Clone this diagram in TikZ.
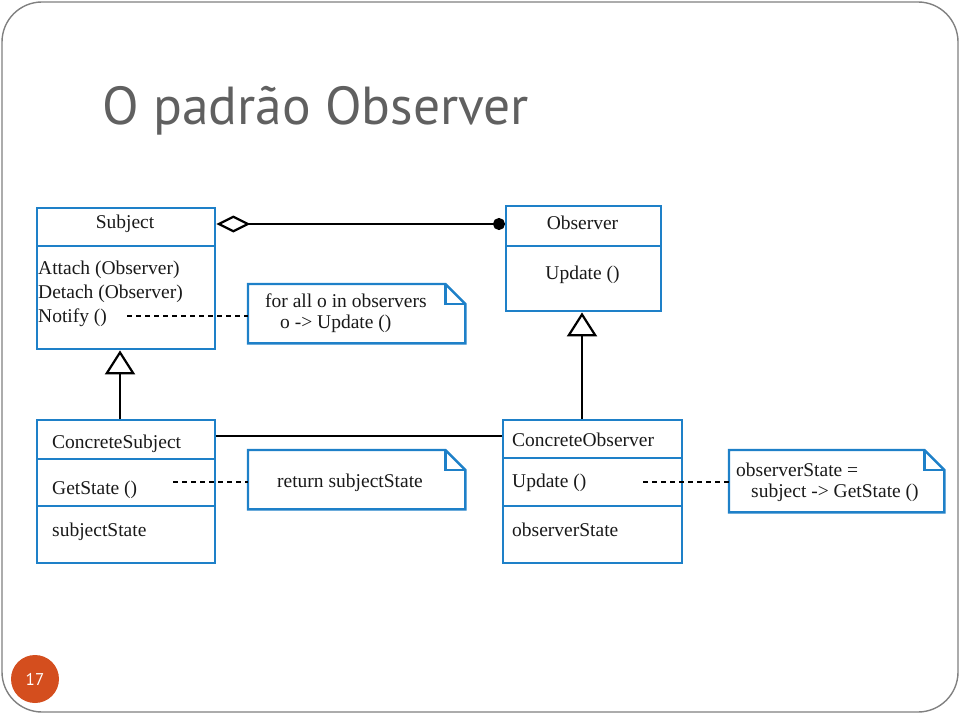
\documentclass[tikz,border=0pt]{standalone}
\usepackage{fontspec}
\setmainfont{Liberation Serif}
\newfontfamily\titlefont{PT Sans}
\usepackage{xcolor}
\usetikzlibrary{arrows.meta,calc,positioning}
\definecolor{umlblue}{RGB}{30,128,200}
\definecolor{slidegray}{RGB}{96,96,96}
\definecolor{pagered}{RGB}{212,78,30}
\newcommand{\umltext}{\fontsize{19.5pt}{22pt}\selectfont}
\tikzset{
  clsbox/.style={draw=umlblue, line width=2.4pt, inner sep=0pt, anchor=north west},
  clstxt/.style={inner sep=0pt, font=\umltext, text=black!90},
  notebox/.style={inner sep=0pt, anchor=north west},
  noteline/.style={draw=umlblue, line width=2.4pt, line join=miter},
  assoc/.style={line width=2.2pt},
  dashlink/.style={line width=2pt, dash pattern=on 5pt off 4pt},
  inherit/.style={line width=2.2pt, -{Triangle[open, length=24pt, width=30pt, line width=2.2pt]}}
}
% one folded-corner note drawn round a named node
\newcommand{\umlnote}[1]{%
  \draw[noteline] (#1.north west) -- ($(#1.north east)+(-20pt,0)$) -- ($(#1.north east)+(0,-20pt)$)
    -- (#1.south east) -- (#1.south west) -- cycle;
  \draw[noteline] ($(#1.north east)+(-20pt,0)$) -- ($(#1.north east)+(-20pt,-20pt)$)
    -- ($(#1.north east)+(0,-20pt)$);}

\begin{document}
\begin{tikzpicture}[x=1pt,y=-1pt]
  \useasboundingbox (0,0) rectangle (960,714);
  \draw[slidegray!80, line width=1.4pt, rounded corners=40pt] (2,2) rectangle (958,712);
  \node[anchor=base west, inner sep=0pt, text=slidegray, font=\titlefont\fontsize{53.5pt}{60pt}\selectfont]
    (title) at (102,125) {O padrão Observer};

  % Subject
  \node[clsbox, minimum width=178pt, minimum height=38pt] (subjT) at (36,207) {};
  \node[clsbox, minimum width=178pt, minimum height=103pt] (subjB) at (36,245) {};
  \node[clstxt] (subjN) at (125,224) {Subject};
  \node[clstxt, anchor=base west] (attach) at (38,274) {Attach (Observer)};
  \node[clstxt, anchor=base west] (detach) at (38,298) {Detach (Observer)};
  \node[clstxt, anchor=base west] (notify) at (38,322) {Notify ()};
  \coordinate (notifyEnd) at (127,316);

  % Observer
  \node[clsbox, minimum width=155pt, minimum height=40pt] (obsT) at (505,205) {};
  \node[clsbox, minimum width=155pt, minimum height=65pt] (obsB) at (505,245) {};
  \node[clstxt] (obsN) at (582.5,223) {Observer};
  \node[clstxt, anchor=base] (obsUpd) at (582.5,279) {Update ()};

  % note on Notify
  \node[notebox, minimum width=217pt, minimum height=59pt] (note1) at (248,284) {};
  \umlnote{note1}
  \node[clstxt, anchor=base west] (note1a) at (265,307) {for all o in observers};
  \node[clstxt, anchor=base west] (note1b) at (280,328) {o -> Update ()};

  % ConcreteSubject
  \node[clsbox, minimum width=178pt, minimum height=39pt] (csT) at (36,419) {};
  \node[clsbox, minimum width=178pt, minimum height=47pt] (csM) at (36,458) {};
  \node[clsbox, minimum width=178pt, minimum height=57pt] (csB) at (36,505) {};
  \node[clstxt, anchor=base west] (csN) at (52,448) {ConcreteSubject};
  \node[clstxt, anchor=base west] (csGet) at (52,494) {GetState ()};
  \node[clstxt, anchor=base west] (csState) at (52,536) {subjectState};
  \coordinate (csGetEnd) at (173,482);

  % note on GetState
  \node[notebox, minimum width=217pt, minimum height=59pt] (note2) at (248,450) {};
  \umlnote{note2}
  \node[clstxt, anchor=base] (note2a) at (350,487) {return subjectState};

  % ConcreteObserver
  \node[clsbox, minimum width=179pt, minimum height=38pt] (coT) at (502,419) {};
  \node[clsbox, minimum width=179pt, minimum height=48pt] (coM) at (502,457) {};
  \node[clsbox, minimum width=179pt, minimum height=57pt] (coB) at (502,505) {};
  \node[clstxt, anchor=base west] (coN) at (512,446) {ConcreteObserver};
  \node[clstxt, anchor=base west] (coUpd) at (512,487) {Update ()};
  \node[clstxt, anchor=base west] (coState) at (512,536) {observerState};
  \coordinate (coUpdEnd) at (643,482);

  % note on Update
  \node[notebox, minimum width=215pt, minimum height=62pt] (note3) at (729,450) {};
  \umlnote{note3}
  \node[clstxt, anchor=base west] (note3a) at (736,476) {observerState =};
  \node[clstxt, anchor=base west] (note3b) at (751,497) {subject -> GetState ()};

  % connectors
  \coordinate (aggL) at (subjT.east |- 0,224);
  \coordinate (aggR) at (obsT.west |- 0,224);
  \draw[assoc, {Diamond[open, length=34pt, width=17pt, line width=2.2pt]}-{Circle[length=12pt]}]
    (aggL) -- ($(aggR)+(-6pt,0)$) -- (aggR);
  \draw[assoc] (csT.east |- 0,436) -- (coT.west |- 0,436);
  \draw[inherit] (csT.north -| 120,0) -- (subjB.south -| 120,0);
  \draw[inherit] (coT.north -| 582,0) -- (obsB.south -| 582,0);
  \draw[dashlink] (notifyEnd) -- (note1.west |- notifyEnd);
  \draw[dashlink] (csGetEnd) -- (note2.west |- csGetEnd);
  \draw[dashlink] (coUpdEnd) -- (note3.west |- coUpdEnd);

  % page number
  \node[circle, fill=pagered, minimum size=48pt, inner sep=0pt, text=white,
    font=\titlefont\fontsize{17pt}{19pt}\selectfont] (pagenum) at (35,679) {17};
\end{tikzpicture}
\end{document}
